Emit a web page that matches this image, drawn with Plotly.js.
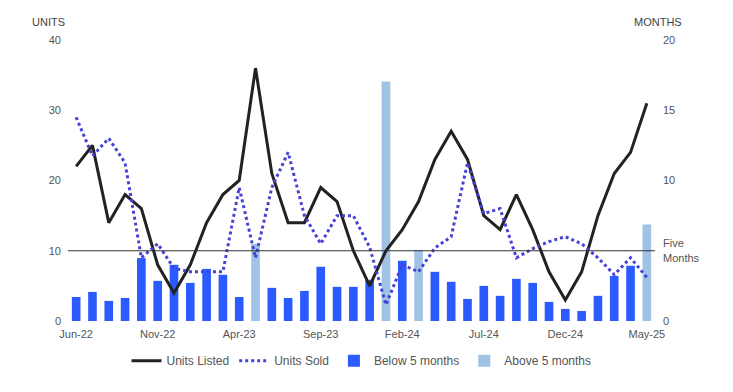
<!DOCTYPE html>
<html>
<head>
<meta charset="utf-8">
<script src="https://cdn.plot.ly/plotly-3.0.1.min.js"></script>
<style>html,body{margin:0;padding:0;background:#fff;}#chart{width:733px;height:392px;}</style>
</head>
<body>
<div id="chart"></div>
<script>
const months = ["Jun-22","Jul-22","Aug-22","Sep-22","Oct-22","Nov-22","Dec-22","Jan-23","Feb-23","Mar-23","Apr-23","May-23",
  "Jun-23","Jul-23","Aug-23","Sep-23","Oct-23","Nov-23","Dec-23","Jan-24","Feb-24","Mar-24","Apr-24","May-24",
  "Jun-24","Jul-24","Aug-24","Sep-24","Oct-24","Nov-24","Dec-24","Jan-25","Feb-25","Mar-25","Apr-25","May-25"];
const unitsListed = [22,25,14,18,16,8,4,8,14,18,20,36, 21,14,14,19,17,10,5,10,13,17,23,27, 23,15,13,18,13,7,3,7,15,21,24,31];
const unitsSold = [29,23.5,26,22.5,9,11,7.5,7,7,7,19,9, 19,24,15,11,15,15,10.5,2.3,8,7,10.4,12, 22.5,15.3,16,9,10.3,11.3,12,11,9,6.6,9,6.2];
const monthsSupply = [1.71,2.07,1.43,1.64,4.48,2.86,4.0,2.71,3.71,3.29,1.71,5.5, 2.36,1.64,2.14,3.86,2.43,2.43,2.93,17.05,4.29,5.05,3.5,2.79, 1.57,2.5,1.79,3.0,2.71,1.36,0.86,0.71,1.79,3.21,3.93,6.86];
const threshold = 5;
const tickLabels = ["Jun-22","Nov-22","Apr-23","Sep-23","Feb-24","Jul-24","Dec-24","May-25"];

const below = monthsSupply.map(v => v <= threshold ? v : null);
const above = monthsSupply.map(v => v > threshold ? v : null);

const data = [
  {type:'scatter', mode:'lines', name:'Units Listed', x:months, y:unitsListed, yaxis:'y2',
   line:{color:'#222222', width:3}},
  {type:'scatter', mode:'lines', name:'Units Sold', x:months, y:unitsSold, yaxis:'y2',
   line:{color:'#4642d4', width:3, dash:'dot'}},
  {type:'bar', name:'Below 5 months', x:months, y:below, yaxis:'y', marker:{color:'#2b5bff'}},
  {type:'bar', name:'Above 5 months', x:months, y:above, yaxis:'y', marker:{color:'#9fc2e5'}}
];

const layout = {
  width:733, height:392,
  margin:{l:68, r:78, t:40, b:71},
  paper_bgcolor:'#fff', plot_bgcolor:'#fff',
  font:{family:'"Liberation Sans", Arial, sans-serif', size:11, color:'#555'},
  showlegend:true,
  barmode:'overlay', bargap:0.47,
  xaxis:{type:'category', categoryorder:'array', categoryarray:months, range:[-0.5,35.5],
    tickmode:'array', tickvals:tickLabels, ticktext:tickLabels, showgrid:false, zeroline:false,
    showline:false, ticks:'', ticklabelstandoff:5, tickfont:{size:11, color:'#555'}},
  yaxis:{side:'right', range:[0,20], tickmode:'array', tickvals:[0,5,10,15,20],
    ticktext:['0','Five<br>Months','10','15','20'], showgrid:false, zeroline:false, showline:false,
    ticks:'', ticklabelstandoff:7, tickfont:{size:11,color:'#555'}},
  yaxis2:{side:'left', overlaying:'y', range:[0,40], tickmode:'array', tickvals:[0,10,20,30,40],
    showgrid:false, zeroline:false, showline:false, ticks:'', ticklabelstandoff:6,
    tickfont:{size:11,color:'#555'}},
  shapes:[{type:'line', xref:'paper', x0:0, x1:1, yref:'y', y0:threshold, y1:threshold,
    line:{color:'#333', width:1}}],
  annotations:[
    {text:'UNITS', xref:'paper', yref:'paper', x:-0.065, y:1.064, xanchor:'left', yanchor:'middle',
     showarrow:false, font:{size:11, color:'#444'}},
    {text:'MONTHS', xref:'paper', yref:'paper', x:0.961, y:1.064, xanchor:'left', yanchor:'middle',
     showarrow:false, font:{size:11, color:'#444'}}
  ],
  legend:{orientation:'h', x:0.5, xanchor:'center', y:-0.09, yanchor:'top',
    font:{size:12, color:'#555'}, itemwidth:30, traceorder:'normal'}
};

Plotly.newPlot('chart', data, layout, {displayModeBar:false, staticPlot:true});
</script>
</body>
</html>
